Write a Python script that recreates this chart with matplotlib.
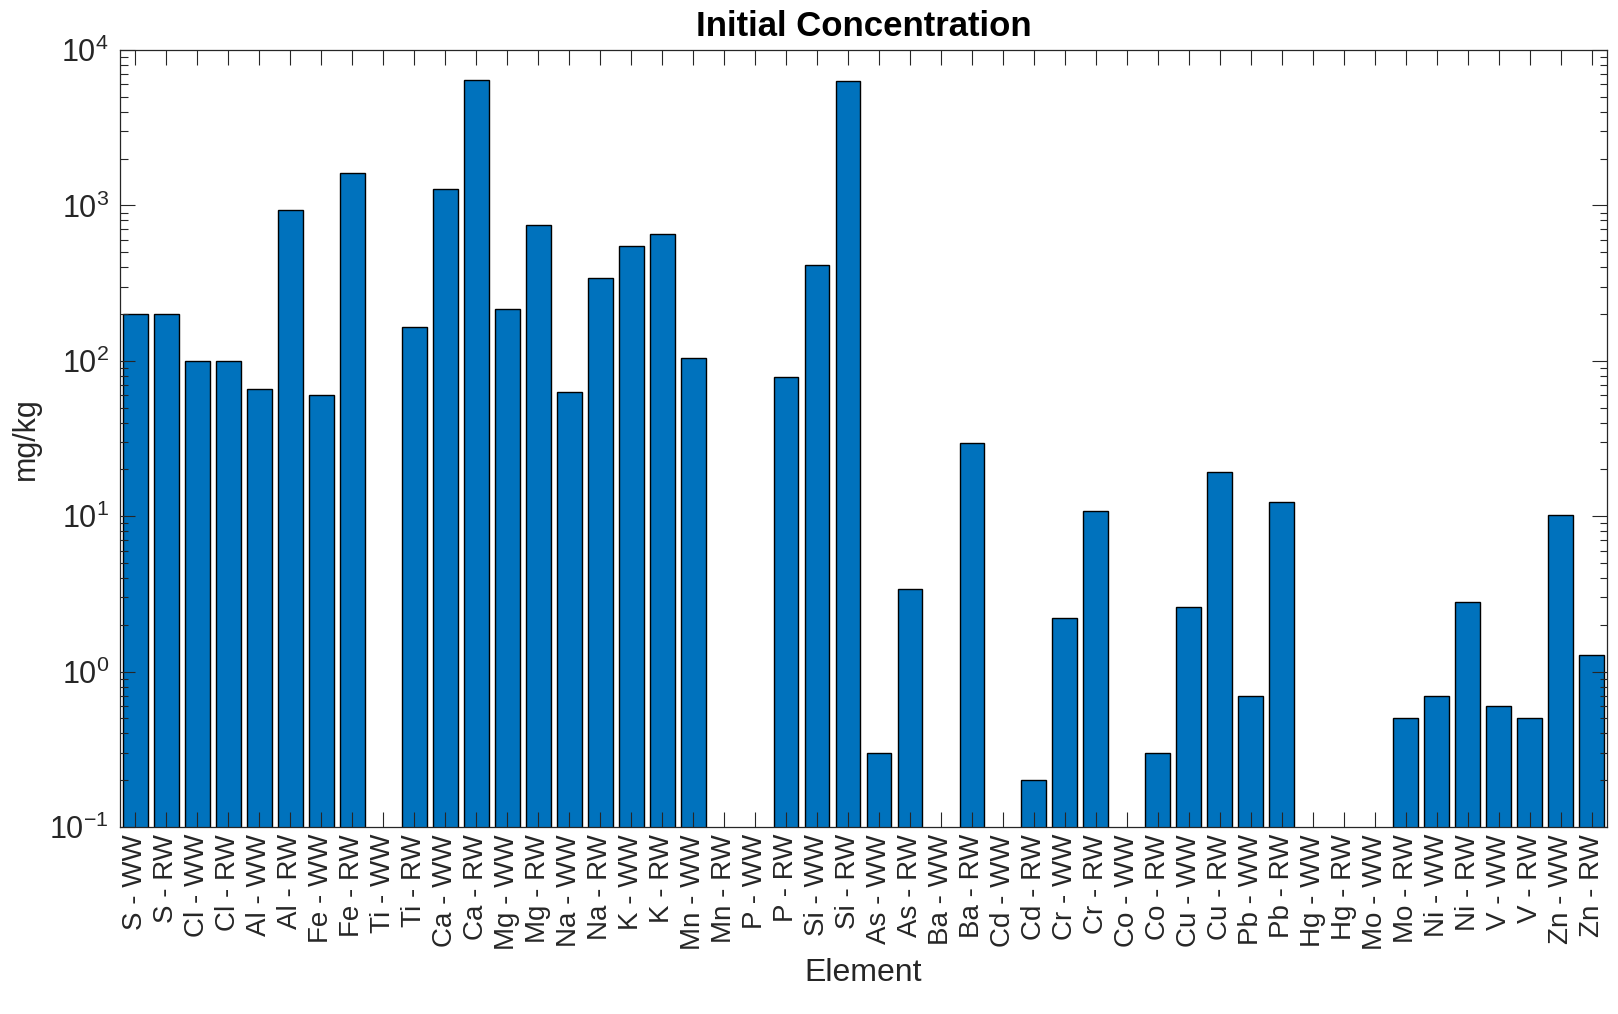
import numpy as np
import matplotlib.pyplot as plt
from matplotlib.ticker import FixedLocator, LogLocator, NullFormatter

plt.rcParams['font.family'] = ['Liberation Sans', 'DejaVu Sans']
plt.rcParams['mathtext.fontset'] = 'custom'
plt.rcParams['mathtext.rm'] = 'Liberation Sans'
plt.rcParams['mathtext.it'] = 'Liberation Sans:italic'
plt.rcParams['mathtext.bf'] = 'Liberation Sans:bold'

# initial concentration (mg/kg), WW and RW per element; nan = not measured
elements = ["S", "Cl", "Al", "Fe", "Ti", "Ca", "Mg", "Na", "K", "Mn", "P", "Si",
            "As", "Ba", "Cd", "Cr", "Co", "Cu", "Pb", "Hg", "Mo", "Ni", "V", "Zn"]
ww = [200, 100, 66, 60, np.nan, 1280, 215, 63, 545, 104, np.nan, 415,
      0.3, np.nan, np.nan, 2.2, np.nan, 2.6, 0.7, np.nan, np.nan, 0.7, 0.6, 10.2]
rw = [200, 100, 930, 1620, 164, 6450, 745, 340, 655, np.nan, 79, 6350,
      3.4, 29.8, 0.2, 10.8, 0.3, 19.3, 12.4, np.nan, 0.5, 2.8, 0.5, 1.28]

labels = []
values = []
for el, a, b in zip(elements, ww, rw):
    labels += [f"{el} - WW", f"{el} - RW"]
    values += [a, b]
values = np.array(values, dtype=float)
x = np.arange(1, len(values) + 1)

TEXT = "#262626"
BAR = "#0072BD"

fig = plt.figure(figsize=(16.18, 10.14), dpi=100)
ax = fig.add_axes([120 / 1618, 1 - 827 / 1014, (1607 - 120) / 1618, (827 - 50) / 1014])

ok = np.isfinite(values)
ax.bar(x[ok], values[ok], width=0.8, bottom=1e-3, color=BAR,
       edgecolor="black", linewidth=1.0, zorder=1)

ax.set_yscale("log")
ax.set_ylim(0.1, 1e4)
ax.set_xlim(0.5, len(values) + 0.5)

ax.xaxis.set_major_locator(FixedLocator(x))
ax.set_xticklabels(labels, rotation=90, fontsize=20, color=TEXT)
ax.set_yticks([1e-1, 1e0, 1e1, 1e2, 1e3, 1e4])
ax.set_yticklabels([r"$10^{-1}$", r"$10^{0}$", r"$10^{1}$", r"$10^{2}$",
                    r"$10^{3}$", r"$10^{4}$"], fontsize=22, color=TEXT)
ax.yaxis.set_minor_locator(LogLocator(base=10, subs=np.arange(2, 10)))
ax.yaxis.set_minor_formatter(NullFormatter())

ax.tick_params(axis="both", which="major", direction="in", length=10.8,
               width=0.8, color=TEXT, top=True, right=True)
ax.tick_params(axis="x", which="major", pad=5)
ax.tick_params(axis="y", which="major", pad=8)
ax.tick_params(axis="y", which="minor", direction="in", length=5.4,
               width=0.8, color=TEXT, right=True)
for sp in ax.spines.values():
    sp.set_color(TEXT)
    sp.set_linewidth(0.9)

ax.set_title("Initial Concentration", fontsize=25, fontweight="bold", pad=10)
ax.set_xlabel("Element", fontsize=23, color=TEXT, labelpad=6)
ax.set_ylabel("mg/kg", fontsize=22, color=TEXT, labelpad=6)

fig.savefig("out.png", dpi=100, facecolor="white")
